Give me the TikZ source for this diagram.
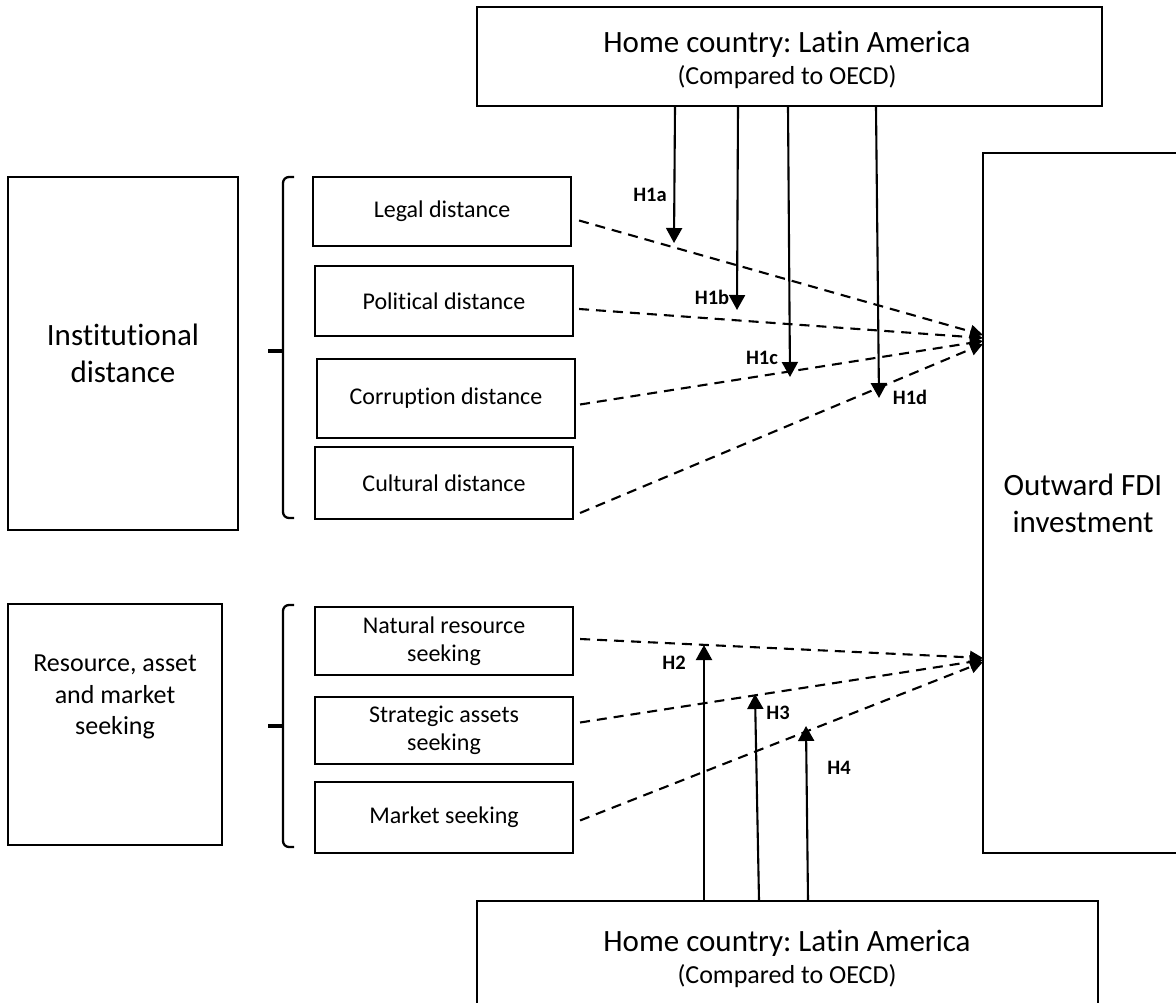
\documentclass[tikz,border=0pt]{standalone}
\usepackage{fontspec}
\setmainfont{Carlito}[Ligatures=NoCommon]
\usetikzlibrary{arrows.meta,calc}
\frenchspacing
\begin{document}
\begin{tikzpicture}[x=1pt,y=-1pt,
  box/.style={draw, line width=2.1pt, inner sep=0pt, align=center},
  bigfont/.style={font=\fontsize{31}{37}\selectfont},
  midfont/.style={font=\fontsize{26}{31.5}\selectfont},
  smallfont/.style={font=\fontsize{24}{28}\selectfont},
  hlab/.style={font=\bfseries\fontsize{20.5}{24}\selectfont, inner sep=0pt},
  solidarrow/.style={line width=2.1pt, -{Triangle[width=16pt,length=15pt]}},
  dasharrow/.style={line width=2.1pt, dash pattern=on 10pt off 7pt, -{Triangle[width=13pt,length=13pt]}},
  bracepath/.style={line width=2.3pt, rounded corners=6pt}]
\clip (0,0) rectangle (1176,1003);
\fill[white] (0,0) rectangle (1176,1003);

% home country boxes
\node[box, minimum width=625, minimum height=99] (top) at (789.5,56.5) {};
\node[align=center, inner sep=0pt] (toptext) at (787,60)
  {{\fontsize{31}{36}\selectfont Home country: Latin America}\\[7pt]{\fontsize{26}{31}\selectfont (Compared to OECD)}};
\node[box, minimum width=621, minimum height=139] (bot) at (787.5,970.5) {};
\node[align=center, inner sep=0pt] (bottext) at (787,959)
  {{\fontsize{31}{36}\selectfont Home country: Latin America}\\[7pt]{\fontsize{26}{31}\selectfont (Compared to OECD)}};

% outcome box
\node[box, bigfont, minimum width=200, minimum height=700] (fdi) at (1083,503) {Outward FDI\\investment};

% left category boxes
\node[box, bigfont, minimum width=230, minimum height=353] (inst) at (123,353.5) {Institutional\\distance};
\node[box, minimum width=214, minimum height=241] (res) at (115,724.5) {};
\node[midfont, align=center, inner sep=0pt] (restext) at (115,697) {Resource, asset\\and market\\seeking};

% sub boxes
\node[box, smallfont, minimum width=258, minimum height=69] (legal) at (442,211.5) {Legal distance};
\node[box, smallfont, minimum width=258, minimum height=70] (pol) at (444,301) {Political distance};
\node[box, smallfont, minimum width=258, minimum height=79] (corr) at (446,398.5) {Corruption distance};
\node[box, smallfont, minimum width=258, minimum height=72] (cult) at (444,483) {Cultural distance};
\node[box, smallfont, minimum width=258, minimum height=68] (nat) at (444,641) {Natural resource\\seeking};
\node[box, smallfont, minimum width=258, minimum height=67] (strat) at (444,730.5) {Strategic assets\\seeking};
\node[box, smallfont, minimum width=258, minimum height=71] (mkt) at (444,817.5) {Market seeking};

% braces
\draw[bracepath] (294,177) -- (283,177) -- (283,518) -- (294,518);
\draw[line width=3.2pt] (268,351) -- (283,351);
\draw[bracepath] (294,605) -- (283,605) -- (283,847) -- (294,847);
\draw[line width=3.2pt] (268,726) -- (283,726);

% convergence points on the outcome box
\coordinate (c1) at (983,335);
\coordinate (c2) at (983,338);
\coordinate (c3) at (983,341);
\coordinate (c4) at (983,344);
\coordinate (c5) at (983,658);
\coordinate (c6) at (983,660);
\coordinate (c7) at (983,662);

% dashed relations
\draw[dasharrow] ($(legal.east)+(7,9)$) -- (c1);
\draw[dasharrow] ($(pol.east)+(5,8)$) -- (c2);
\draw[dasharrow] ($(corr.east)+(4,6)$) -- (c3);
\draw[dasharrow] ($(cult.east)+(6,30)$) -- (c4);
\draw[dasharrow] ($(nat.east)+(6,-2)$) -- (c5);
\draw[dasharrow] ($(strat.east)+(6,-8)$) -- (c6);
\draw[dasharrow] ($(mkt.east)+(6,3)$) -- (c7);

% moderator arrows from top
\coordinate (s1) at (675,0); \coordinate (e1) at (674,243);
\coordinate (s2) at (738,0); \coordinate (e2) at (737,310);
\coordinate (s3) at (788,0); \coordinate (e3) at (790,377);
\coordinate (s4) at (876,0); \coordinate (e4) at (879,398);
\draw[solidarrow] (s1 |- top.south) -- (e1);
\draw[solidarrow] (s2 |- top.south) -- (e2);
\draw[solidarrow] (s3 |- top.south) -- (e3);
\draw[solidarrow] (s4 |- top.south) -- (e4);

% moderator arrows from bottom
\coordinate (b1) at (704,0); \coordinate (f1) at (704,645);
\coordinate (b2) at (759,0); \coordinate (f2) at (755,694);
\coordinate (b3) at (808,0); \coordinate (f3) at (806,726);
\draw[solidarrow] (b1 |- bot.north) -- (f1);
\draw[solidarrow] (b2 |- bot.north) -- (f2);
\draw[solidarrow] (b3 |- bot.north) -- (f3);

% hypothesis labels
\node[hlab] (H1a) at (650,195) {H1a};
\node[hlab] (H1b) at (712,297) {H1b};
\node[hlab] (H1c) at (762,358) {H1c};
\node[hlab] (H1d) at (910,397) {H1d};
\node[hlab] (H2) at (674,663) {H2};
\node[hlab] (H3) at (778,713) {H3};
\node[hlab] (H4) at (839,768) {H4};
\end{tikzpicture}
\end{document}
